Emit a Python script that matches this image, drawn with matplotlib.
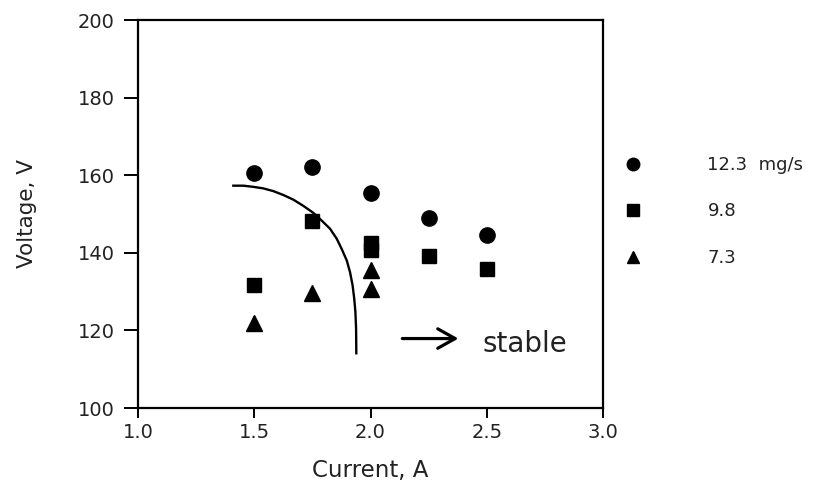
import matplotlib
matplotlib.use("Agg")
import matplotlib.pyplot as plt

plt.rcParams['font.family'] = ['DejaVu Sans']

# Data
current_123 = [1.5, 1.75, 2.0, 2.25, 2.5]
voltage_123 = [160.5, 162.0, 155.4, 148.9, 144.6]

current_98 = [1.5, 1.75, 2.0, 2.0, 2.25, 2.5]
voltage_98 = [131.6, 148.1, 142.6, 140.8, 139.2, 135.7]

current_73 = [1.5, 1.75, 2.0, 2.0]
voltage_73 = [121.9, 129.6, 135.5, 130.6]

boundary_current = [1.410, 1.453, 1.496, 1.539, 1.582, 1.625, 1.668, 1.711, 1.754, 1.790,
                    1.826, 1.855, 1.876, 1.898, 1.912, 1.923, 1.930, 1.935, 1.938, 1.939]
boundary_voltage = [157.3, 157.3, 157.0, 156.6, 155.9, 154.9, 153.7, 152.1, 150.3, 148.3,
                    146.2, 143.6, 141.0, 138.0, 135.0, 131.6, 128.2, 124.8, 120.5, 114.1]

labels = ["12.3  mg/s", "9.8", "7.3"]
xticks = [1.0, 1.5, 2.0, 2.5, 3.0]
yticks = [100, 120, 140, 160, 180, 200]

text_color = '#222222'

fig = plt.figure(figsize=(8.23, 4.84), dpi=100)
ax = fig.add_axes([138/823, 1 - 408/484, (603 - 138)/823, (408 - 20)/484])

h1, = ax.plot(current_123, voltage_123, 'o', color='black', ms=11, linestyle='none', label=labels[0])
h2, = ax.plot(current_98, voltage_98, 's', color='black', ms=10, linestyle='none', label=labels[1])
h3, = ax.plot(current_73, voltage_73, '^', color='black', ms=11, linestyle='none', label=labels[2])
ax.plot(boundary_current, boundary_voltage, color='black', lw=1.7, solid_joinstyle='round')

ax.annotate("", xy=(2.39, 117.9), xytext=(2.125, 117.9),
            arrowprops=dict(arrowstyle='->, head_length=0.5, head_width=0.28',
                            lw=2.3, color='black', mutation_scale=25))
ax.text(2.48, 114.5, "stable", fontsize=20, va='baseline', ha='left', color=text_color)

ax.set_xlim(1.0, 3.0)
ax.set_ylim(100, 200)
ax.set_xticks(xticks)
ax.set_xticklabels([f"{t:.1f}" for t in xticks])
ax.set_yticks(yticks)
ax.set_yticklabels([str(t) for t in yticks])
ax.tick_params(axis='x', direction='out', length=7, width=1.4, labelsize=14, pad=4,
               colors='black', labelcolor=text_color)
ax.tick_params(axis='y', direction='out', length=10, width=1.4, labelsize=14, pad=7,
               colors='black', labelcolor=text_color)
for s in ax.spines.values():
    s.set_linewidth(1.6)

ax.set_xlabel("Current, A", fontsize=16.5, color=text_color, labelpad=12)
ax.set_ylabel("Voltage, V", fontsize=15.5, color=text_color, labelpad=29)

leg = ax.legend(handles=[h1, h2, h3], loc='upper left', bbox_to_anchor=(0.7587, 0.678),
                bbox_transform=fig.transFigure, frameon=False, fontsize=13,
                handlelength=1.0, handletextpad=3.6, labelspacing=1.58,
                borderpad=0, borderaxespad=0, numpoints=1)
for t in leg.get_texts():
    t.set_color(text_color)
for lh in leg.legend_handles:
    lh.set_markersize(9)

fig.savefig("out.png", dpi=100, facecolor='white')
